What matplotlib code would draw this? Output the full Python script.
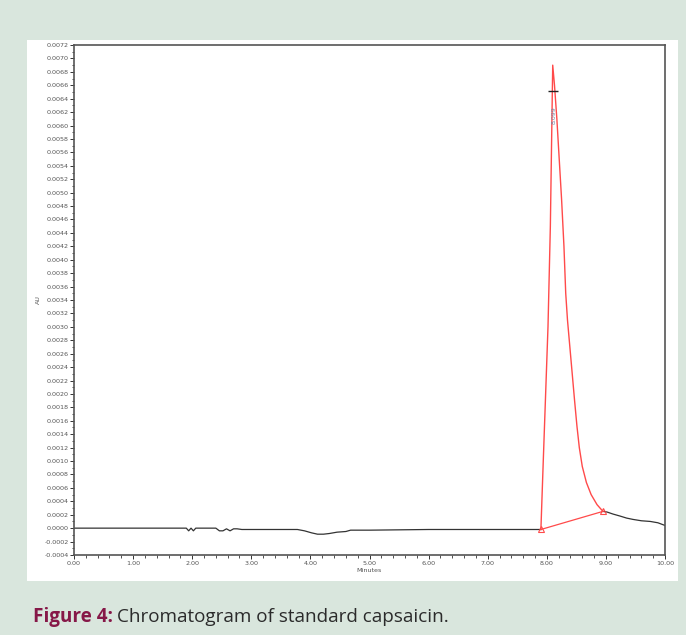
"""Chromatogram of standard capsaicin (Figure 4 re-draw)."""

import matplotlib.pyplot as plt
from matplotlib.patches import Rectangle
from matplotlib.ticker import MultipleLocator, FormatStrFormatter

# Baseline trace before the peak (minutes, AU)
PRE_T = [0.00, 1.90, 1.94, 1.98, 2.02, 2.06, 2.40, 2.46, 2.52, 2.58, 2.64,
         2.70, 2.76, 2.84, 3.00, 3.78, 3.90, 4.02, 4.12, 4.22, 4.32, 4.45,
         4.60, 4.68, 5.00, 6.00, 7.00, 7.90]
PRE_AU = [0.00000, 0.00000, -0.00004, 0.00000, -0.00004, 0.00000, 0.00000,
          -0.00004, -0.00004, -0.00001, -0.00004, -0.00001, -0.00001,
          -0.00002, -0.00002, -0.00002, -0.00004, -0.00007, -0.00009,
          -0.00009, -0.00008, -0.00006, -0.00005, -0.00003, -0.00003,
          -0.00002, -0.00002, -0.00002]

# Integrated peak (drawn in red)
PEAK_T = [7.90, 7.94, 7.98, 8.02, 8.06, 8.09, 8.10, 8.13, 8.17, 8.21, 8.25,
          8.29, 8.32, 8.35, 8.39, 8.43, 8.47, 8.51, 8.55, 8.60, 8.67, 8.75,
          8.85, 8.95]
PEAK_AU = [-0.00002, 0.00100, 0.00200, 0.00300, 0.00450, 0.00630, 0.00690,
           0.00660, 0.00610, 0.00550, 0.00490, 0.00420, 0.00350, 0.00310,
           0.00270, 0.00230, 0.00190, 0.00152, 0.00120, 0.00092, 0.00068,
           0.00050, 0.00035, 0.00025]

# Tail after the peak
POST_T = [8.95, 9.02, 9.12, 9.24, 9.35, 9.46, 9.60, 9.75, 9.88, 10.00]
POST_AU = [0.00025, 0.00024, 0.00021, 0.00018, 0.00015, 0.00013, 0.00011,
           0.00010, 0.00008, 0.00004]

# Drop-line baseline of the integration and apex marker
BASE_T = [7.90, 8.95]
BASE_AU = [-0.00002, 0.00025]
APEX_T = 8.10
APEX_AU = 0.00652
APEX_LABEL = "8.099"

CAPTION_BOLD = "Figure 4:"
CAPTION_TEXT = "Chromatogram of standard capsaicin."

BG = "#d9e6dd"
RED = "#ff4a4a"
TRACE = "#333333"


def plot() -> None:
    fig = plt.figure(figsize=(6.86, 6.35), dpi=100, facecolor=BG)
    fig.patches.append(Rectangle((0.0394, 0.085), 0.949, 0.852, transform=fig.transFigure,
                                 facecolor="white", edgecolor="none", zorder=-5))

    ax = fig.add_axes([0.1079, 0.1260, 0.8615, 0.8031])
    ax.set_zorder(2)
    ax.set_facecolor("white")

    ax.plot(PRE_T, PRE_AU, color=TRACE, lw=0.9)
    ax.plot(POST_T, POST_AU, color=TRACE, lw=0.9)
    ax.plot(PEAK_T, PEAK_AU, color=RED, lw=1.0)
    ax.plot(BASE_T, BASE_AU, color=RED, lw=0.9)
    ax.plot(BASE_T, BASE_AU, linestyle="none", marker="^", markersize=4,
            markerfacecolor="none", markeredgecolor=RED, markeredgewidth=0.8)
    ax.plot([APEX_T], [APEX_AU], marker="_", markersize=7, color="#222222", mew=1.0)
    ax.text(APEX_T + 0.02, 0.00615, APEX_LABEL, rotation=90, fontsize=4.5,
            color="#7080a0", ha="center", va="center")

    ax.set_xlim(0, 10)
    ax.set_ylim(-0.0004, 0.0072)
    ax.xaxis.set_major_locator(MultipleLocator(1.0))
    ax.xaxis.set_minor_locator(MultipleLocator(0.2))
    ax.yaxis.set_major_locator(MultipleLocator(0.0002))
    ax.yaxis.set_minor_locator(MultipleLocator(0.0001))
    ax.xaxis.set_major_formatter(FormatStrFormatter("%.2f"))
    ax.yaxis.set_major_formatter(FormatStrFormatter("%.4f"))

    ax.tick_params(which="major", length=3, width=0.7, labelsize=4.6,
                   labelcolor="#555555", color="#333333", pad=1)
    ax.tick_params(which="minor", length=1.8, width=0.6, color="#333333")
    for s in ax.spines.values():
        s.set_color("#555555")
        s.set_linewidth(1.2)

    ax.set_xlabel("Minutes", fontsize=4.6, color="#555555", labelpad=0)
    ax.set_ylabel("AU", fontsize=4.6, color="#555555", labelpad=2)
    ax.xaxis.set_label_coords(0.5, -0.025)

    # caption: bold lead-in, then the plain text right after it
    lead = fig.text(0.048, 0.0205, CAPTION_BOLD, fontsize=13.6, fontweight="bold",
                    color="#861848", family="Open Sans", va="baseline")
    fig.canvas.draw()
    bb = lead.get_window_extent().transformed(fig.transFigure.inverted())
    fig.text(bb.x1 + 0.006, 0.0205, CAPTION_TEXT, fontsize=13.6,
             color="#2b2b2b", family="Open Sans", va="baseline")

    fig.savefig("out.png", dpi=100, facecolor=BG)


if __name__ == "__main__":
    plot()
